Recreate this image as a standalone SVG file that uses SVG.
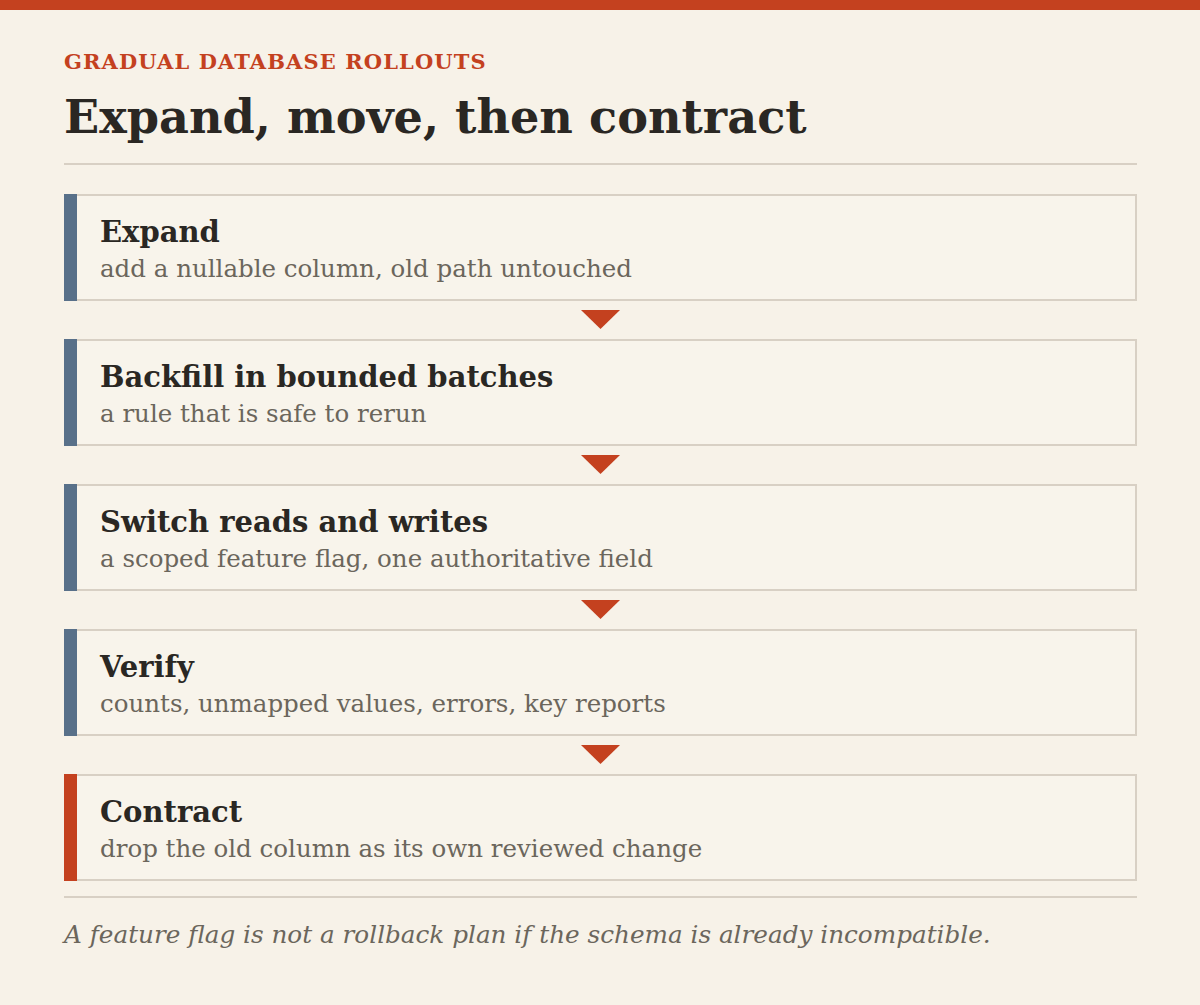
<svg xmlns="http://www.w3.org/2000/svg" width="1200" height="1005" viewBox="0 0 1200 1005">
<style>
.bg{fill:#f7f2e8}
.box{fill:#f8f4eb;stroke:#d8d0c4;stroke-width:2}
.bar-blue{fill:#587089}
.bar-red{fill:#c4411f}
.rule{stroke:#d8d0c4;stroke-width:2}
.arrow{fill:#c4411f}
.kicker{font-family:"DejaVu Serif",serif;font-weight:bold;font-size:21px;letter-spacing:1.1px;fill:#c4411f}
.title{font-family:"DejaVu Serif",serif;font-weight:bold;font-size:46.2px;fill:#2a2723}
.ntitle{font-family:"DejaVu Serif",serif;font-weight:bold;font-size:29px;fill:#2a2723}
.nsub{font-family:"DejaVu Serif",serif;font-size:24.5px;fill:#6b665c}
.foot{font-family:"DejaVu Serif",serif;font-style:italic;font-size:24.7px;fill:#6b665c}
</style>
<rect class="bg" x="0" y="0" width="1200" height="1005"/>
<rect class="bar-red" x="0" y="0" width="1200" height="10"/>
<text class="kicker" x="64" y="69">GRADUAL DATABASE ROLLOUTS</text>
<text class="title" x="64" y="133">Expand, move, then contract</text>
<line class="rule" x1="64" y1="164" x2="1137" y2="164"/>
<g id="connectors">
<polygon class="arrow" points="581,310 620,310 600.5,329"/>
<polygon class="arrow" points="581,455 620,455 600.5,474"/>
<polygon class="arrow" points="581,600 620,600 600.5,619"/>
<polygon class="arrow" points="581,745 620,745 600.5,764"/>
</g>
<g id="node-expand">
<rect class="box" x="65" y="195" width="1071" height="105"/>
<rect class="bar-blue" x="64" y="194" width="13" height="107"/>
<text class="ntitle" x="100" y="242">Expand</text>
<text class="nsub" x="100" y="277">add a nullable column, old path untouched</text>
</g>
<g id="node-backfill">
<rect class="box" x="65" y="340" width="1071" height="105"/>
<rect class="bar-blue" x="64" y="339" width="13" height="107"/>
<text class="ntitle" x="100" y="387">Backfill in bounded batches</text>
<text class="nsub" x="100" y="422">a rule that is safe to rerun</text>
</g>
<g id="node-switch">
<rect class="box" x="65" y="485" width="1071" height="105"/>
<rect class="bar-blue" x="64" y="484" width="13" height="107"/>
<text class="ntitle" x="100" y="532">Switch reads and writes</text>
<text class="nsub" x="100" y="567">a scoped feature flag, one authoritative field</text>
</g>
<g id="node-verify">
<rect class="box" x="65" y="630" width="1071" height="105"/>
<rect class="bar-blue" x="64" y="629" width="13" height="107"/>
<text class="ntitle" x="100" y="677">Verify</text>
<text class="nsub" x="100" y="712">counts, unmapped values, errors, key reports</text>
</g>
<g id="node-contract">
<rect class="box" x="65" y="775" width="1071" height="105"/>
<rect class="bar-red" x="64" y="774" width="13" height="107"/>
<text class="ntitle" x="100" y="822">Contract</text>
<text class="nsub" x="100" y="857">drop the old column as its own reviewed change</text>
</g>
<line class="rule" x1="64" y1="897" x2="1137" y2="897"/>
<text class="foot" x="64" y="943">A feature flag is not a rollback plan if the schema is already incompatible.</text>
</svg>
